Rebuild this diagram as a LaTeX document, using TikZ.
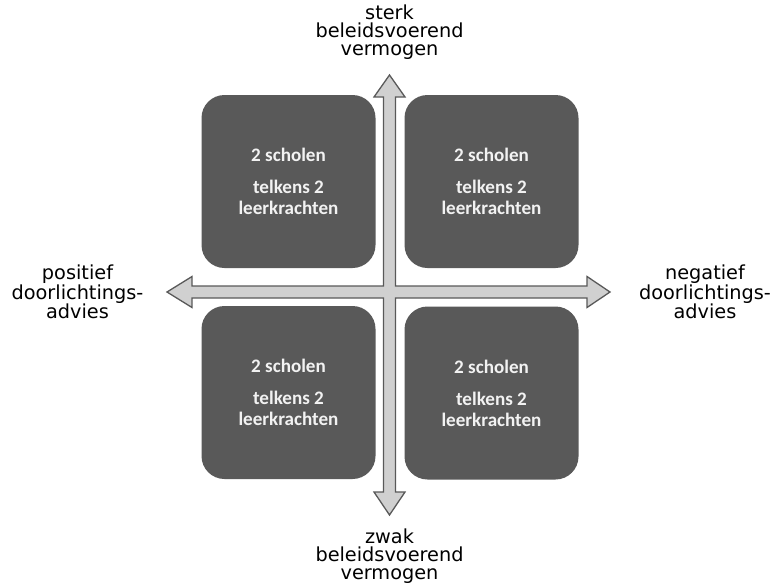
\documentclass[tikz,border=0pt]{standalone}
\usepackage{fontspec}
\setmainfont{DejaVu Sans}
\newfontfamily\boxfont{Carlito}
\begin{document}
\begin{tikzpicture}[x=1pt,y=-1pt,
  quad/.style={fill=boxgray, rounded corners=23pt, minimum width=174pt, minimum height=173pt, inner sep=0pt,
    text=boxtext, font=\boxfont\bfseries\fontsize{19.1}{21}\selectfont, align=center},
  axislabel/.style={font=\fontsize{19.3}{18.3}\selectfont, align=center, inner sep=0pt, text=black},
  arrowshape/.style={fill=arrowfill, draw=boxgray, line width=1.3pt, line join=miter}]
\definecolor{boxgray}{HTML}{595959}
\definecolor{boxtext}{HTML}{F2F2F2}
\definecolor{arrowfill}{HTML}{D0D0D0}
\useasboundingbox (0,0) rectangle (776,584);
% cross-shaped double arrow
\def\cx{389.5}\def\cy{292}
\coordinate (top) at (\cx,75);
\coordinate (bottom) at (\cx,515);
\coordinate (left) at (167,\cy);
\coordinate (right) at (610,\cy);
\draw[arrowshape] (top) -- (\cx+15.5,97) -- (\cx+6,97) -- (\cx+6,\cy-6) -- (587,\cy-6) -- (587,\cy-15.5)
  -- (right) -- (587,\cy+15.5) -- (587,\cy+6) -- (\cx+6,\cy+6) -- (\cx+6,492) -- (\cx+15.5,492)
  -- (bottom) -- (\cx-15.5,492) -- (\cx-6,492) -- (\cx-6,\cy+6) -- (192,\cy+6) -- (192,\cy+15.5)
  -- (left) -- (192,\cy-15.5) -- (192,\cy-6) -- (\cx-6,\cy-6) -- (\cx-6,97) -- (\cx-15.5,97) -- cycle;
% quadrant boxes
\node[quad] (tl) at (288.5,181.5) {2 scholen\\[11pt]telkens 2\\leerkrachten};
\node[quad] (tr) at (491.5,181.5) {2 scholen\\[11pt]telkens 2\\leerkrachten};
\node[quad] (bl) at (288.5,392.5) {2 scholen\\[11pt]telkens 2\\leerkrachten};
\node[quad] (br) at (491.5,393) {2 scholen\\[11pt]telkens 2\\leerkrachten};
% axis labels
\node[axislabel] (lt) at (389.5,32) {sterk\\beleidsvoerend\\vermogen};
\node[axislabel] (lb) at (389.5,556) {zwak\\beleidsvoerend\\vermogen};
\node[axislabel] (ll) at (77.5,292) {positief\\doorlichtings-\\advies};
\node[axislabel] (lr) at (705,292) {negatief\\doorlichtings-\\advies};
\end{tikzpicture}
\end{document}
